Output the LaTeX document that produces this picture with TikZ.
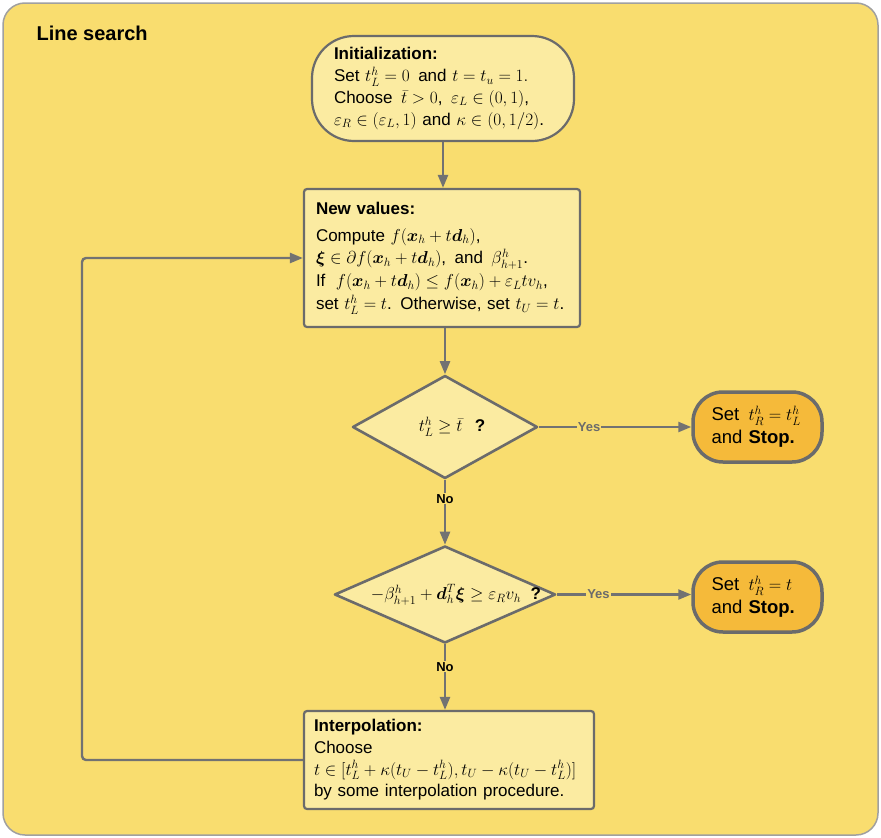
\documentclass[tikz,border=0pt]{standalone}
\usepackage{amsmath,amssymb}
\usepackage[no-math]{fontspec}
\setmainfont{Liberation Sans}
\usetikzlibrary{arrows.meta,shapes.geometric}

\definecolor{bgyellow}{HTML}{F9DD6F}
\definecolor{boxfill}{HTML}{FBEBA1}
\definecolor{stopfill}{HTML}{F5BA3A}
\definecolor{edgegrey}{HTML}{6B6B6B}
\definecolor{linegrey}{HTML}{727272}
\definecolor{framegrey}{HTML}{A0A0A0}

\newcommand{\bx}{\boldsymbol{x}}
\newcommand{\bd}{\boldsymbol{d}}
\newcommand{\bxi}{\boldsymbol{\xi}}

\tikzset{
  bodytext/.style={font=\fontsize{17}{21.7}\selectfont},
  procbox/.style={draw=edgegrey, line width=2.2pt, fill=boxfill, rounded corners=3pt,
    align=left, inner ysep=0pt, bodytext},
  startbox/.style={draw=edgegrey, line width=2.2pt, fill=boxfill, rounded corners=42pt,
    align=left, inner ysep=0pt, bodytext},
  stopbox/.style={draw=edgegrey, line width=3.5pt, fill=stopfill, rounded corners=30pt,
    align=left, inner ysep=0pt, inner xsep=18.5pt, text width=92pt,
    font=\fontsize{18.5}{23}\selectfont,
    minimum width=129pt, minimum height=70pt},
  decision/.style={diamond, draw=edgegrey, line width=2.6pt, fill=boxfill,
    inner sep=0pt, line join=round},
  flow/.style={draw=linegrey, line width=2.4pt,
    -{Triangle[length=13pt,width=10pt]}},
  branch/.style={font=\bfseries\fontsize{13}{15}\selectfont, fill=bgyellow,
    inner sep=1pt},
}

\begin{document}
\begin{tikzpicture}[x=1pt,y=-1pt]
  \useasboundingbox (0,0) rectangle (881,838);
  % panel
  \draw[framegrey, line width=1.5pt, fill=bgyellow, rounded corners=22pt]
    (3,3) rectangle (878,835);
  \node[anchor=west, font=\bfseries\fontsize{20}{24}\selectfont] (title) at (33,33)
    {Line search};

  % start
  \node[startbox, inner xsep=22pt, text width=218pt, minimum width=262pt,
        minimum height=105pt] (init) at (443,88.5)
    {\textbf{Initialization:}\\
     Set $t_L^h = 0$\, and $t = t_u = 1.$\\
     Choose\, $\bar t > 0$,\, $\varepsilon_L \in (0,1)$,\\
     $\varepsilon_R \in (\varepsilon_L, 1)$ and $\kappa \in (0, 1/2)$.};

  % new values
  \node[procbox, inner xsep=12pt, text width=252pt, minimum width=276pt,
        minimum height=138pt, font=\fontsize{17}{22.8}\selectfont] (newv) at (442,258)
    {\textbf{New values:}\\[4pt]
     Compute $f(\bx_h + t\bd_h)$,\\
     $\bxi \in \partial f(\bx_h + t\bd_h)$,\, and\, $\beta_{h+1}^h$.\\
     If\; $f(\bx_h + t\bd_h) \le f(\bx_h) + \varepsilon_L t v_h$,\\
     set $t_L^h = t$. Otherwise, set $t_U = t$.};

  % first test
  \node[decision, minimum width=185pt, minimum height=103pt] (d1) at (445,427) {};
  \node[bodytext] (d1text) at ([xshift=7pt]d1.center) {$t_L^h \geq \bar t$\;\, \textbf{?}};

  % second test
  \node[decision, minimum width=221pt, minimum height=97pt] (d2) at (445,594.5) {};
  \node[bodytext] (d2text) at ([xshift=11pt]d2.center)
    {$-\beta_{h+1}^h + \bd_h^T\bxi \geq \varepsilon_R v_h$\; \textbf{?}};

  % stops
  \node[stopbox] (stop1) at (757.5,427)
    {Set\, $t_R^h = t_L^h$\\ and \textbf{Stop.}};
  \node[stopbox] (stop2) at (757.5,597)
    {Set\, $t_R^h = t$\\ and \textbf{Stop.}};

  % interpolation
  \node[procbox, inner xsep=10pt, text width=270pt, minimum width=290pt,
        minimum height=98pt] (interp) at (449,760)
    {\textbf{Interpolation:}\\
     Choose\\
     $t \in [t_L^h + \kappa(t_U - t_L^h), t_U - \kappa(t_U - t_L^h)]$\\
     by some interpolation procedure.};

  % connectors
  \draw[flow] (init.south) -- (init.south |- newv.north);
  \draw[flow] (newv.south -| d1.north) -- (d1.north);
  \draw[flow] (d1.east) -- node[branch, pos=0.33] {\textcolor{edgegrey}{Yes}} (stop1.west);
  \draw[flow] (d1.south) -- node[branch, pos=0.29] {No} (d1.south |- d2.north);
  \draw[flow] (d2.east) -- node[branch, pos=0.31] {\textcolor{edgegrey}{Yes}} (d2.east -| stop2.west);
  \draw[flow] (d2.south) -- node[branch, pos=0.34] {No} (d2.south |- interp.north);

  % loop back
  \coordinate (loop) at (82,258);
  \draw[flow, rounded corners=4pt] (interp.west) -| (loop) -- (newv.west);
\end{tikzpicture}
\end{document}
